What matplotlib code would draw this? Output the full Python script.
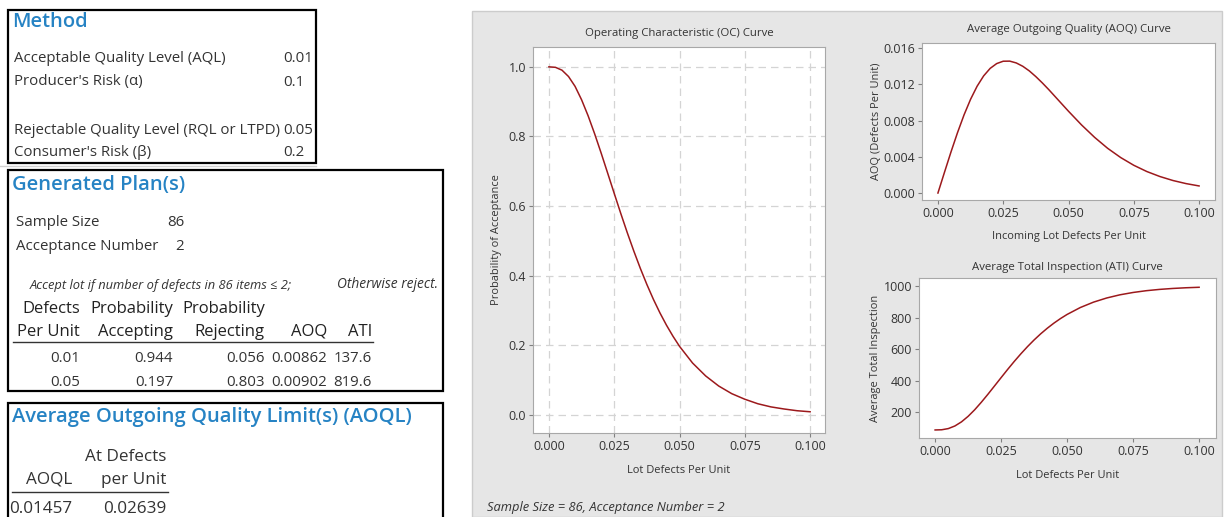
import matplotlib
matplotlib.use('Agg')
import matplotlib.pyplot as plt
from matplotlib.patches import Rectangle

plt.rcParams['font.family'] = ['Open Sans', 'DejaVu Sans']

# 数据
p = [0.0, 0.0025, 0.005, 0.0075, 0.01, 0.0125, 0.015, 0.0175, 0.02, 0.0225, 0.025,
     0.0275, 0.03, 0.0325, 0.035, 0.0375, 0.04, 0.0425, 0.045, 0.0475, 0.05,
     0.055, 0.06, 0.065, 0.07, 0.075, 0.08, 0.085, 0.09, 0.095, 0.1]
oc = [1.0, 0.9986, 0.9904, 0.9722, 0.944, 0.9054, 0.8594, 0.8076, 0.7521, 0.6943, 0.6363,
      0.5789, 0.5234, 0.4707, 0.4209, 0.3747, 0.3320, 0.2931, 0.2578, 0.2259, 0.197,
      0.149, 0.112, 0.083, 0.061, 0.045, 0.032, 0.023, 0.017, 0.012, 0.009]
aoq = [0.0, 0.00228, 0.00453, 0.00666, 0.00862, 0.01034, 0.01178, 0.01292, 0.01375,
       0.01428, 0.01454, 0.01455, 0.01435, 0.01398, 0.01347, 0.01284, 0.01214, 0.01139,
       0.01060, 0.00981, 0.00902, 0.00751, 0.00614, 0.00493, 0.00391, 0.00306, 0.00237,
       0.00182, 0.00138, 0.00104, 0.00078]
ati = [86.0, 87.3, 94.8, 111.4, 137.6, 172.5, 214.4, 261.9, 312.6, 365.4, 418.4,
       470.9, 521.6, 569.8, 615.3, 657.6, 696.6, 732.1, 764.4, 793.5, 819.6,
       863.5, 897.7, 924.1, 944.2, 959.1, 970.4, 978.6, 984.6, 989.0, 992.1]

method_labels = ['Acceptable Quality Level (AQL)', "Producer's Risk (\u03b1)",
                 'Rejectable Quality Level (RQL or LTPD)', "Consumer's Risk (\u03b2)"]
method_values = ['0.01', '0.1', '0.05', '0.2']
plan_header1 = ['Defects', 'Probability', 'Probability', '', '']
plan_header2 = ['Per Unit', 'Accepting', 'Rejecting', 'AOQ', 'ATI']
plan_rows = [['0.01', '0.944', '0.056', '0.00862', '137.6'],
             ['0.05', '0.197', '0.803', '0.00902', '819.6']]
aoql_row = ['0.01457', '0.02639']

W, H = 1225, 517
fig = plt.figure(figsize=(W / 100, H / 100), dpi=100)
blue = '#2683c4'
txt = '#333333'
red = '#9c191c'
body = 10.8
head = 14.5

def fx(x):
    return x / W

def fy(y):
    return 1 - y / H

def put(x, y, s, **kw):
    kw.setdefault('fontsize', body)
    kw.setdefault('color', txt)
    kw.setdefault('va', 'center')
    return fig.text(fx(x), fy(y), s, **kw)

def box(x0, y0, x1, y1):
    r = Rectangle((fx(x0), fy(y1)), fx(x1) - fx(x0), fy(y0) - fy(y1), transform=fig.transFigure,
                  fill=False, edgecolor='black', lw=1.6)
    fig.add_artist(r)
    return r

# Method
box(8, 10, 316, 163)
put(12, 22, 'Method', fontsize=head, color=blue, weight='semibold')
for lab, val, y in zip(method_labels, method_values, [59, 82, 130, 153]):
    put(14, y, lab)
    put(283, y, val)
fig.add_artist(plt.Line2D([0, fx(316)], [fy(166), fy(166)], transform=fig.transFigure,
                          color='#d0d0d0', lw=1))

# Generated Plan(s)
clip = box(8, 170, 443, 391)
put(12, 185, 'Generated Plan(s)', fontsize=head, color=blue, weight='semibold')
put(16, 222, 'Sample Size')
put(184, 222, '86', ha='right')
put(16, 247, 'Acceptance Number')
put(184, 247, '2', ha='right')
put(30, 285, 'Accept lot if number of defects in 86 items \u2264 2;', fontsize=9.3, style='italic')
t = put(337, 285, 'Otherwise reject.', fontsize=9.9, style='italic')
t.set_clip_path(clip)
col_x = [80, 173, 265, 327, 372]
for x, h1, h2 in zip(col_x, plan_header1, plan_header2):
    put(x, 309, h1, ha='right', fontsize=12, color='#222222')
    put(x, 332, h2, ha='right', fontsize=12, color='#222222')
fig.add_artist(plt.Line2D([fx(13), fx(373)], [fy(342), fy(342)], transform=fig.transFigure,
                          color='#333333', lw=1))
for row, y in zip(plan_rows, [358, 383]):
    for x, s in zip(col_x, row):
        put(x, y, s, ha='right')

# AOQL
box(8, 403, 443, 520)
put(12, 417, 'Average Outgoing Quality Limit(s) (AOQL)', fontsize=head, color=blue,
    weight='semibold')
fa = 12.3
put(166, 457, 'At Defects', ha='right', fontsize=fa)
put(72, 480, 'AOQL', ha='right', fontsize=fa)
put(166, 480, 'per Unit', ha='right', fontsize=fa)
fig.add_artist(plt.Line2D([fx(12), fx(168)], [fy(492), fy(492)], transform=fig.transFigure,
                          color='#333333', lw=1))
put(72, 509, aoql_row[0], ha='right', fontsize=fa)
put(166, 509, aoql_row[1], ha='right', fontsize=fa)

# 右侧灰色面板
fig.add_artist(Rectangle((fx(472), 0), fx(1222) - fx(472), fy(11), transform=fig.transFigure,
                         facecolor='#e6e6e6', edgecolor='#cccccc', lw=1, zorder=0))

fs = 8.2
fl = 7.9
ft = 8.9

def make_ax(x0, y0, x1, y1):
    ax = fig.add_axes([fx(x0), fy(y1), fx(x1) - fx(x0), fy(y0) - fy(y1)])
    ax.set_facecolor('white')
    for s in ax.spines.values():
        s.set_color('#a8a8a8')
    ax.tick_params(direction='out', length=3, width=0.8, color='#808080',
                   labelsize=ft, labelcolor=txt, pad=2)
    ax.set_xticks([0, 0.025, 0.05, 0.075, 0.1])
    ax.set_xticklabels(['0.000', '0.025', '0.050', '0.075', '0.100'])
    return ax

# OC
ax1 = make_ax(533, 47, 825, 433)
ax1.plot(p, oc, color=red, lw=1.1)
ax1.set_xlim(-0.0061, 0.1057)
ax1.set_ylim(-0.052, 1.057)
ax1.set_yticks([0, 0.2, 0.4, 0.6, 0.8, 1.0])
ax1.set_yticklabels(['0.0', '0.2', '0.4', '0.6', '0.8', '1.0'])
ax1.grid(True, color='#d4d4d4', ls=(0, (6, 4)), lw=0.9)
ax1.set_axisbelow(True)
ax1.set_title('Operating Characteristic (OC) Curve', fontsize=fs, color=txt, pad=8)
ax1.set_xlabel('Lot Defects Per Unit', fontsize=fl, color=txt, labelpad=9)
ax1.set_ylabel('Probability of Acceptance', fontsize=fl, color=txt, labelpad=5)
put(487, 507, 'Sample Size = 86, Acceptance Number = 2', fontsize=9.3, style='italic')

# AOQ
ax2 = make_ax(922, 43, 1215, 200)
ax2.plot(p, aoq, color=red, lw=1.1)
ax2.set_xlim(-0.0061, 0.1061)
ax2.set_ylim(-0.00077, 0.01655)
ax2.set_yticks([0, 0.004, 0.008, 0.012, 0.016])
ax2.set_yticklabels(['0.000', '0.004', '0.008', '0.012', '0.016'])
ax2.set_title('Average Outgoing Quality (AOQ) Curve', fontsize=fs, color=txt, pad=8)
ax2.set_xlabel('Incoming Lot Defects Per Unit', fontsize=fl, color=txt, labelpad=8)
ax2.set_ylabel('AOQ (Defects Per Unit)', fontsize=fl, color=txt, labelpad=1)

# ATI
ax3 = make_ax(919, 278, 1216, 438)
ax3.plot(p, ati, color=red, lw=1.1)
ax3.set_xlim(-0.0061, 0.1064)
ax3.set_ylim(35, 1051)
ax3.set_yticks([200, 400, 600, 800, 1000])
ax3.set_title('Average Total Inspection (ATI) Curve', fontsize=fs, color=txt, pad=6)
ax3.set_xlabel('Lot Defects Per Unit', fontsize=fl, color=txt, labelpad=9)
ax3.set_ylabel('Average Total Inspection', fontsize=fl, color=txt, labelpad=2)

fig.savefig('out.png', dpi=100)
